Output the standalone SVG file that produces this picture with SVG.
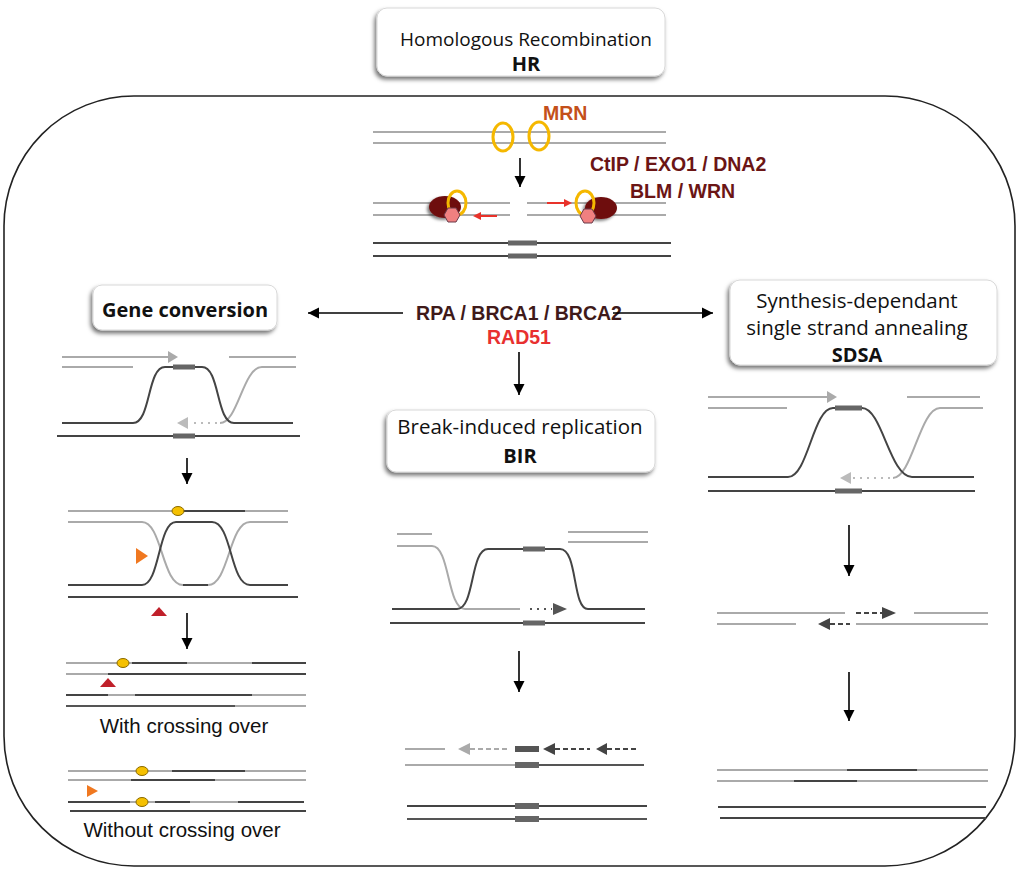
<svg xmlns="http://www.w3.org/2000/svg" width="1024" height="869" viewBox="0 0 1024 869">
<defs>
<marker id="ah" markerUnits="userSpaceOnUse" markerWidth="12" markerHeight="12" refX="11" refY="6" orient="auto">
<path d="M0,0.5 L11,6 L0,11.5 z" fill="#000"/>
</marker>
<filter id="sh" x="-10%" y="-20%" width="120%" height="150%">
<feDropShadow dx="-2" dy="3" stdDeviation="2" flood-color="#000" flood-opacity="0.55"/>
</filter>
<filter id="psh" x="-30%" y="-30%" width="160%" height="160%">
<feDropShadow dx="-2" dy="2" stdDeviation="1.5" flood-color="#000" flood-opacity="0.5"/>
</filter>
</defs>
<style>
.lt{stroke:#aaaaaa;stroke-width:2;fill:none}
.dk{stroke:#444444;stroke-width:2;fill:none}
.md{stroke:#555555;stroke-width:2;fill:none}
.bx{fill:#666666}
.con{stroke:#000;stroke-width:1.6;fill:none;marker-end:url(#ah)}
.box{fill:#ffffff;stroke:#d8d8d8;stroke-width:1;filter:url(#sh)}
.bt{font-family:"Open Sans","Noto Sans",sans-serif;font-size:20.5px;fill:#111;text-anchor:middle}
.bb{font-family:"Open Sans","Noto Sans",sans-serif;font-size:20px;font-weight:bold;fill:#111;text-anchor:middle}
.lb{font-family:"Liberation Sans",Arial,sans-serif;font-weight:bold;font-size:19.5px}
.cap{font-family:"Liberation Sans",Arial,sans-serif;font-size:20.5px;fill:#111;text-anchor:middle}
.ring{fill:none;stroke:#f5b800;stroke-width:3}
.dot{fill:#f5c000;stroke:#8a6a00;stroke-width:1}
</style>
<rect x="4" y="96" width="1011" height="770" rx="130" ry="130" fill="none" stroke="#222" stroke-width="1.6"/>

<g id="hr">
<rect class="box" x="377" y="8" width="288" height="68" rx="10"/>
<text class="bt" x="526" y="46" style="font-size:19px">Homologous Recombination</text>
<text class="bb" x="526" y="71">HR</text>
</g>

<g id="resection">
<line class="lt" x1="373" y1="132" x2="666" y2="132"/>
<line class="lt" x1="373" y1="143" x2="666" y2="143"/>
<ellipse class="ring" cx="503" cy="137" rx="10" ry="14"/>
<ellipse class="ring" cx="539" cy="136" rx="10" ry="14"/>
<text class="lb" x="543" y="120" fill="#c4501a">MRN</text>
<text class="lb" x="590" y="171" fill="#6b1515">CtIP / EXO1 / DNA2</text>
<text class="lb" x="630" y="198" fill="#6b1515">BLM / WRN</text>
<line class="lt" x1="373" y1="203" x2="510" y2="203"/>
<line class="lt" x1="373" y1="215" x2="510" y2="215"/>
<line class="lt" x1="527" y1="203" x2="666" y2="203"/>
<line class="lt" x1="527" y1="215" x2="666" y2="215"/>
<ellipse cx="445" cy="207" rx="16" ry="11" fill="#6e1010" filter="url(#psh)"/>
<ellipse class="ring" cx="457" cy="203" rx="9" ry="12"/>
<polygon points="444,215 448,208 456,208 460,215 456,222 448,222" fill="#f08080" stroke="#6a3a4a" stroke-width="1"/>
<line x1="497" y1="216" x2="480" y2="216" stroke="#e8322a" stroke-width="2"/>
<polygon points="481,212 473,216 481,220" fill="#e8322a"/>
<ellipse cx="601" cy="208" rx="16" ry="11" fill="#6e1010" filter="url(#psh)"/>
<ellipse class="ring" cx="585" cy="203" rx="9" ry="12"/>
<polygon points="580,216 584,209 592,209 596,216 592,223 584,223" fill="#f08080" stroke="#6a3a4a" stroke-width="1"/>
<line x1="547" y1="203" x2="565" y2="203" stroke="#e8322a" stroke-width="2"/>
<polygon points="564,199 572,203 564,207" fill="#e8322a"/>
<line class="dk" x1="373" y1="243" x2="671" y2="243"/>
<line class="dk" x1="373" y1="256" x2="671" y2="256"/>
<rect class="bx" x="508" y="240.5" width="29" height="5"/>
<rect class="bx" x="508" y="253.5" width="29" height="5"/>
</g>

<g id="loading">
<text class="lb" x="519" y="320" fill="#3f1a1a" text-anchor="middle">RPA / BRCA1 / BRCA2</text>
<text class="lb" x="519" y="344" fill="#e83030" text-anchor="middle">RAD51</text>
</g>

<g id="gc">
<rect class="box" x="93" y="285" width="184" height="45" rx="9"/>
<text class="bb" x="185" y="317">Gene conversion</text>
</g>

<g id="bir">
<rect class="box" x="387" y="410" width="268" height="62" rx="9"/>
<text class="bt" x="520" y="434">Break-induced replication</text>
<text class="bb" x="520" y="463">BIR</text>
</g>

<g id="sdsa">
<rect class="box" x="730" y="280" width="267" height="85" rx="10"/>
<text class="bt" x="857" y="308">Synthesis-dependant</text>
<text class="bt" x="857" y="335">single strand annealing</text>
<text class="bb" x="857" y="362">SDSA</text>
</g>

<g id="gc-invasion">
<line class="lt" x1="62" y1="357" x2="170" y2="357"/>
<polygon points="168,351 178,357 168,363" fill="#aaaaaa"/>
<line class="lt" x1="62" y1="367" x2="133" y2="367"/>
<line class="lt" x1="229" y1="357" x2="296" y2="357"/>
<path class="lt" d="M296,367 H262 C243,367 238,423 220,423"/>
<line x1="217" y1="423" x2="190" y2="423" stroke="#bbbbbb" stroke-width="2" stroke-dasharray="2,5"/>
<polygon points="188,417 177,423 188,429" fill="#bbbbbb"/>
<path class="dk" d="M62,423 H133 C151,423 147,367 165,367 H202 C220,367 216,423 234,423 H293"/>
<rect class="bx" x="173" y="364.5" width="22" height="5"/>
<line class="dk" x1="57" y1="436" x2="300" y2="436"/>
<rect class="bx" x="173" y="433.5" width="22" height="5"/>
</g>

<g id="gc-hj">
<line class="lt" x1="68" y1="511" x2="288" y2="511"/>
<line class="dk" x1="183" y1="511" x2="245" y2="511"/>
<ellipse class="dot" cx="178" cy="511" rx="6" ry="4.5"/>
<path class="lt" d="M68,522 H142 C162,522 162,585 183,585"/>
<path class="lt" d="M208,585 C229,585 229,522 250,522 H288"/>
<path class="dk" d="M68,585 H142 C160,585 158,522 176,522 H212 C232,522 230,585 250,585 H288"/>
<line class="dk" x1="183" y1="585" x2="208" y2="585"/>
<line class="dk" x1="68" y1="597" x2="298" y2="597"/>
<polygon points="136,548 148,556 136,564" fill="#f07820"/>
<polygon points="151,616 159,607 167,616" fill="#c0202a"/>
</g>

<g id="gc-co">
<line class="lt" x1="66" y1="663" x2="306" y2="663"/>
<line class="dk" x1="132" y1="663" x2="187" y2="663"/>
<line class="dk" x1="252" y1="663" x2="306" y2="663"/>
<ellipse class="dot" cx="123" cy="663" rx="6" ry="4.5"/>
<line class="lt" x1="66" y1="674" x2="108" y2="674"/>
<line class="dk" x1="108" y1="674" x2="306" y2="674"/>
<polygon points="100,687 108,678 116,687" fill="#c0202a"/>
<line class="lt" x1="66" y1="695" x2="306" y2="695"/>
<line class="dk" x1="66" y1="695" x2="108" y2="695"/>
<line class="dk" x1="135" y1="695" x2="252" y2="695"/>
<line class="lt" x1="66" y1="706" x2="306" y2="706"/>
<line class="md" x1="66" y1="706" x2="235" y2="706"/>
<text class="cap" x="184" y="733">With crossing over</text>
</g>

<g id="gc-nco">
<line class="lt" x1="68" y1="771" x2="306" y2="771"/>
<line class="dk" x1="172" y1="771" x2="245" y2="771"/>
<ellipse class="dot" cx="142" cy="771" rx="6" ry="4.5"/>
<line class="lt" x1="68" y1="780" x2="306" y2="780"/>
<line class="dk" x1="131" y1="780" x2="215" y2="780"/>
<polygon points="87,785 98,791 87,797" fill="#f07820"/>
<line class="lt" x1="68" y1="802" x2="304" y2="802"/>
<line class="dk" x1="68" y1="802" x2="130" y2="802"/>
<line class="dk" x1="155" y1="802" x2="190" y2="802"/>
<line class="dk" x1="238" y1="802" x2="304" y2="802"/>
<ellipse class="dot" cx="142" cy="802" rx="6" ry="4.5"/>
<line class="dk" x1="70" y1="811" x2="306" y2="811"/>
<text class="cap" x="182" y="837">Without crossing over</text>
</g>

<g id="bir-invasion">
<line class="lt" x1="397" y1="534" x2="432" y2="534"/>
<path class="lt" d="M397,546 H432 C450,546 447,609 465,609 H520"/>
<line x1="530" y1="609" x2="552" y2="609" stroke="#555555" stroke-width="2" stroke-dasharray="2,5"/>
<polygon points="553,603 567,609 553,615" fill="#555555"/>
<path class="dk" d="M392,609 H457 C475,609 470,549 488,549 H560 C578,549 572,609 588,609 H645"/>
<rect class="bx" x="523" y="546.5" width="22" height="5"/>
<line class="lt" x1="568" y1="532" x2="648" y2="532"/>
<line class="lt" x1="568" y1="542" x2="648" y2="542"/>
<line class="dk" x1="390" y1="623" x2="645" y2="623"/>
<rect class="bx" x="523" y="620.5" width="22" height="5"/>
</g>

<g id="bir-synthesis">
<line class="lt" x1="405" y1="749" x2="445" y2="749"/>
<line x1="470" y1="749" x2="510" y2="749" stroke="#aaaaaa" stroke-width="2" stroke-dasharray="5,3"/>
<polygon points="470,743 458,749 470,755" fill="#aaaaaa"/>
<rect x="515" y="746" width="24" height="6" fill="#555555"/>
<line x1="555" y1="749" x2="590" y2="749" stroke="#444444" stroke-width="2" stroke-dasharray="5,3"/>
<polygon points="555,743 543,749 555,755" fill="#444444"/>
<line x1="607" y1="749" x2="638" y2="749" stroke="#444444" stroke-width="2" stroke-dasharray="5,3"/>
<polygon points="607,743 596,749 607,755" fill="#444444"/>
<line class="lt" x1="405" y1="765" x2="515" y2="765"/>
<line class="md" x1="539" y1="765" x2="644" y2="765"/>
<rect class="bx" x="515" y="762" width="24" height="6"/>
<line class="dk" x1="407" y1="806" x2="647" y2="806"/>
<rect class="bx" x="515" y="803" width="24" height="6"/>
<line class="md" x1="407" y1="819" x2="647" y2="819"/>
<rect class="bx" x="515" y="816" width="24" height="6"/>
</g>

<g id="sdsa-invasion">
<line class="lt" x1="708" y1="397" x2="829" y2="397"/>
<polygon points="827,391 837,397 827,403" fill="#aaaaaa"/>
<line class="lt" x1="708" y1="408" x2="787" y2="408"/>
<line class="lt" x1="907" y1="397" x2="980" y2="397"/>
<path class="lt" d="M983,408 H940 C920,408 912,478 893,478"/>
<line x1="890" y1="478" x2="852" y2="478" stroke="#bbbbbb" stroke-width="2" stroke-dasharray="2,5"/>
<polygon points="851,472 840,478 851,484" fill="#bbbbbb"/>
<path class="dk" d="M708,477 H788 C808,477 813,408 833,408 H862 C882,408 890,477 912,477 H974"/>
<rect class="bx" x="835" y="405.5" width="27" height="5"/>
<line class="dk" x1="708" y1="491" x2="975" y2="491"/>
<rect class="bx" x="835" y="488.5" width="27" height="5"/>
</g>

<g id="sdsa-annealing">
<line class="lt" x1="717" y1="613" x2="845" y2="613"/>
<line x1="856" y1="613" x2="882" y2="613" stroke="#444444" stroke-width="2" stroke-dasharray="5,3"/>
<polygon points="882,607 896,613 882,619" fill="#444444"/>
<line class="lt" x1="914" y1="613" x2="988" y2="613"/>
<line class="lt" x1="717" y1="624" x2="796" y2="624"/>
<polygon points="830,618 818,624 830,630" fill="#444444"/>
<line x1="830" y1="624" x2="850" y2="624" stroke="#444444" stroke-width="2" stroke-dasharray="5,3"/>
<line class="lt" x1="856" y1="624" x2="988" y2="624"/>
</g>

<g id="sdsa-product">
<line class="lt" x1="717" y1="770" x2="988" y2="770"/>
<line class="dk" x1="847" y1="770" x2="917" y2="770"/>
<line class="lt" x1="717" y1="781" x2="988" y2="781"/>
<line class="dk" x1="794" y1="781" x2="857" y2="781"/>
<line class="dk" x1="718" y1="807" x2="986" y2="807"/>
<line class="dk" x1="720" y1="818" x2="986" y2="818"/>
</g>

<g id="connectors">
<line class="con" x1="520" y1="158" x2="520" y2="187"/>
<line class="con" x1="403" y1="313" x2="308" y2="313"/>
<line class="con" x1="613" y1="313" x2="713" y2="313"/>
<line class="con" x1="519" y1="352" x2="519" y2="395"/>
<line class="con" x1="187" y1="458" x2="187" y2="484"/>
<line class="con" x1="187" y1="613" x2="187" y2="649"/>
<line class="con" x1="519" y1="651" x2="519" y2="692"/>
<line class="con" x1="849" y1="525" x2="849" y2="576"/>
<line class="con" x1="849" y1="672" x2="849" y2="721"/>
</g>
</svg>
